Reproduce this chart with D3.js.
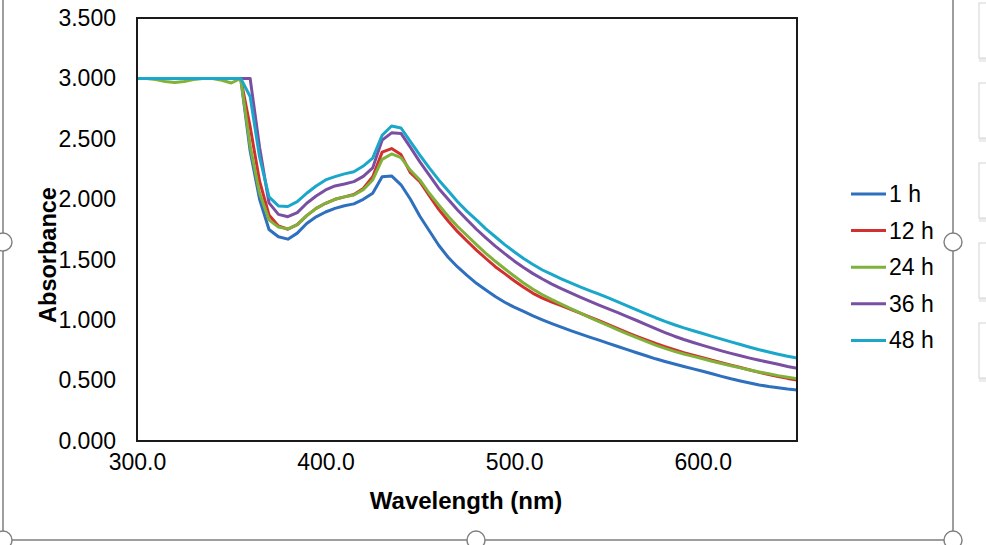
<!DOCTYPE html>
<html><head><meta charset="utf-8">
<script src="https://cdn.jsdelivr.net/npm/d3@7"></script>
<style>
html,body{margin:0;padding:0;background:#fff;}
svg{display:block;font-family:"Liberation Sans",Arial,sans-serif;}
</style></head>
<body><svg id="c" width="986" height="545"></svg>
<script>
const wavelengths = [300,305,310,315,320,325,330,335,340,345,350,355,360,365,370,375,380,385,390,395,400,405,410,415,420,425,430,435,440,445,450,455,460,465,470,475,480,485,490,495,500,505,510,515,520,525,530,535,540,545,550,555,560,565,570,575,580,585,590,595,600,605,610,615,620,625,630,635,640,645,650];

const series1h = [3.000,3.000,3.000,3.000,3.000,3.000,3.000,3.000,3.000,3.000,3.000,3.000,2.400,2.000,1.750,1.690,1.670,1.720,1.800,1.855,1.895,1.925,1.947,1.962,2.000,2.050,2.187,2.193,2.120,2.000,1.860,1.740,1.620,1.520,1.440,1.370,1.305,1.250,1.195,1.148,1.108,1.072,1.036,1.003,0.972,0.942,0.913,0.886,0.860,0.835,0.808,0.782,0.756,0.730,0.705,0.680,0.658,0.637,0.617,0.597,0.577,0.556,0.535,0.515,0.497,0.480,0.464,0.451,0.440,0.430,0.422];

const series12h = [3.000,3.000,3.000,3.000,3.000,3.000,3.000,3.000,3.000,3.000,3.000,3.000,2.600,2.150,1.870,1.780,1.752,1.790,1.865,1.925,1.967,2.000,2.020,2.040,2.090,2.187,2.390,2.420,2.370,2.220,2.146,2.030,1.917,1.820,1.732,1.655,1.580,1.510,1.442,1.385,1.326,1.272,1.222,1.182,1.150,1.120,1.090,1.058,1.026,0.995,0.962,0.930,0.897,0.866,0.836,0.807,0.780,0.755,0.731,0.710,0.690,0.668,0.648,0.628,0.608,0.588,0.568,0.550,0.533,0.518,0.505];

const series24h = [3.000,3.000,2.990,2.975,2.967,2.975,2.990,3.000,3.000,2.985,2.962,3.000,2.440,2.050,1.830,1.770,1.755,1.790,1.865,1.925,1.967,2.000,2.020,2.035,2.080,2.160,2.330,2.375,2.345,2.240,2.160,2.050,1.953,1.860,1.775,1.700,1.625,1.553,1.487,1.425,1.365,1.308,1.255,1.210,1.170,1.133,1.096,1.060,1.022,0.987,0.954,0.920,0.887,0.855,0.824,0.793,0.766,0.742,0.720,0.700,0.680,0.660,0.641,0.623,0.605,0.588,0.571,0.556,0.541,0.528,0.516];

const series36h = [3.000,3.000,3.000,3.000,3.000,3.000,3.000,3.000,3.000,3.000,3.000,3.000,3.000,2.430,1.970,1.875,1.856,1.890,1.967,2.027,2.077,2.110,2.126,2.146,2.190,2.260,2.490,2.550,2.545,2.430,2.310,2.200,2.090,2.000,1.911,1.830,1.752,1.680,1.613,1.550,1.490,1.435,1.385,1.340,1.298,1.260,1.225,1.190,1.157,1.125,1.093,1.062,1.030,0.997,0.963,0.929,0.897,0.867,0.840,0.815,0.791,0.768,0.746,0.725,0.705,0.686,0.668,0.651,0.635,0.617,0.602];

const series48h = [3.000,3.000,3.000,3.000,3.000,3.000,3.000,3.000,3.000,3.000,3.000,3.000,2.850,2.350,2.020,1.945,1.940,1.980,2.050,2.110,2.160,2.187,2.210,2.228,2.275,2.340,2.530,2.606,2.590,2.477,2.366,2.260,2.160,2.070,1.980,1.900,1.829,1.755,1.690,1.625,1.566,1.510,1.460,1.415,1.378,1.342,1.308,1.276,1.245,1.215,1.185,1.152,1.118,1.085,1.052,1.020,0.990,0.962,0.936,0.912,0.889,0.866,0.843,0.820,0.798,0.776,0.755,0.736,0.718,0.701,0.687];

const seriesNames = ["1 h","12 h","24 h","36 h","48 h"];
const seriesColors = ["#2e6fbe","#d2302f","#80b13a","#7a4fa2","#1aa7c9"];
const yTicks = [0,0.5,1,1.5,2,2.5,3,3.5];
const xTicks = [300,400,500,600];

const allSeries = [series1h, series12h, series24h, series36h, series48h];

const svg = d3.select("#c");
const L = 137, R = 797, T = 18, B = 441;
const x = d3.scaleLinear().domain([300,650]).range([L,R]);
const y = d3.scaleLinear().domain([0,3.5]).range([B,T]);

// selection frame (Excel-like)
const frame = svg.append("g");
frame.append("path").attr("d","M3,0 V540 H953 V0").attr("fill","none").attr("stroke","#7f7f7f").attr("stroke-width",1.5);
[[3,242],[953,242],[476,540],[3,540],[953,540]].forEach(p=>{
  frame.append("circle").attr("cx",p[0]).attr("cy",p[1]).attr("r",9).attr("fill","#fff").attr("stroke","#7f7f7f").attr("stroke-width",1.4);
});
// side buttons
[3,83,163,243,323].forEach(t=>{
  frame.append("rect").attr("x",979).attr("y",t+3).attr("width",20).attr("height",56).attr("fill","#ececec");
  frame.append("rect").attr("x",979).attr("y",t).attr("width",20).attr("height",55).attr("fill","#fff").attr("stroke","#d4d4d4").attr("stroke-width",1);
});

// lines
const line = d3.line().x((d,i)=>x(wavelengths[i])).y(d=>y(d));
allSeries.forEach((s,k)=>{
  svg.append("path").datum(s).attr("d",line).attr("fill","none")
    .attr("stroke",seriesColors[k]).attr("stroke-width",3).attr("stroke-linejoin","round");
});

// plot border
svg.append("rect").attr("x",L).attr("y",T).attr("width",R-L).attr("height",B-T)
  .attr("fill","none").attr("stroke","#1a1a1a").attr("stroke-width",2);

// axes
const yAxis = svg.append("g").attr("transform",`translate(${L-21},0)`)
  .call(d3.axisLeft(y).tickValues(yTicks).tickFormat(d3.format(".3f")).tickSize(0).tickPadding(0));
yAxis.select(".domain").remove();
yAxis.selectAll("text").attr("font-size",23).attr("fill","#000").attr("font-family","Liberation Sans, Arial");

const xAxis = svg.append("g").attr("transform",`translate(0,${B+13})`)
  .call(d3.axisBottom(x).tickValues(xTicks).tickFormat(d3.format(".1f")).tickSize(0).tickPadding(0));
xAxis.select(".domain").remove();
xAxis.selectAll("text").attr("font-size",23).attr("fill","#000").attr("font-family","Liberation Sans, Arial");

// titles
svg.append("text").attr("x",466).attr("y",509).attr("text-anchor","middle")
  .attr("font-size",24).attr("font-weight","bold").text("Wavelength (nm)");
svg.append("text").attr("transform","translate(56,255) rotate(-90)").attr("text-anchor","middle")
  .attr("font-size",23.5).attr("font-weight","bold").text("Absorbance");

// legend
const lg = svg.append("g");
seriesNames.forEach((n,k)=>{
  const cy = 194 + k*36.6;
  lg.append("line").attr("x1",851).attr("x2",886).attr("y1",cy).attr("y2",cy)
    .attr("stroke",seriesColors[k]).attr("stroke-width",3);
  lg.append("text").attr("x",889).attr("y",cy+8).attr("font-size",23).text(n);
});
</script></body></html>
